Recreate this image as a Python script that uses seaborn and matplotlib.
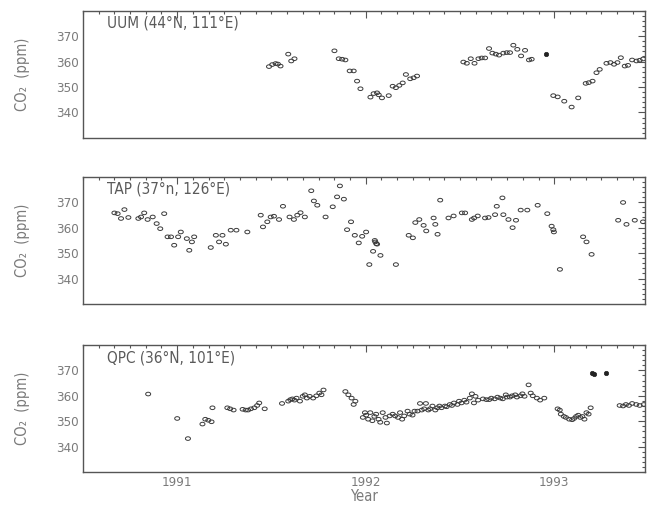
import numpy as np
import pandas as pd
import matplotlib
matplotlib.use("Agg")
import matplotlib.pyplot as plt
from matplotlib.path import Path
from matplotlib.ticker import MultipleLocator, FixedLocator
import seaborn as sns

# ---- UUM (44N, 111E) ----
uum_t = [1991.487, 1991.504, 1991.522, 1991.534, 1991.548, 1991.589, 1991.605, 1991.622,
         1991.834, 1991.857, 1991.875, 1991.892, 1991.915, 1991.936, 1991.954, 1991.972,
         1992.025, 1992.042, 1992.060, 1992.069, 1992.086, 1992.122, 1992.143, 1992.160,
         1992.178, 1992.196, 1992.213, 1992.236, 1992.254, 1992.272,
         1992.518, 1992.536, 1992.557, 1992.577, 1992.598, 1992.615, 1992.633, 1992.654,
         1992.672, 1992.690, 1992.707, 1992.730, 1992.748, 1992.765, 1992.783, 1992.804,
         1992.824, 1992.845, 1992.866, 1992.880,
         1992.995, 1993.018, 1993.053, 1993.092, 1993.127, 1993.167, 1993.183, 1993.203,
         1993.224, 1993.241, 1993.277, 1993.298, 1993.317, 1993.335, 1993.353, 1993.374,
         1993.391, 1993.413, 1993.436, 1993.453, 1993.471]
uum_co2 = [358.0, 358.8, 359.2, 359.0, 358.2, 362.9, 360.2, 361.1,
           364.2, 361.1, 360.9, 360.6, 356.3, 356.3, 352.3, 349.3,
           346.0, 347.4, 347.7, 346.9, 345.7, 346.6, 350.3, 349.7,
           350.6, 351.6, 354.9, 353.2, 353.6, 354.3,
           359.8, 359.3, 361.1, 359.3, 361.1, 361.4, 361.4, 365.1,
           363.3, 362.9, 362.5, 363.3, 363.5, 363.5, 366.4, 364.8,
           362.2, 364.4, 360.6, 360.9,
           346.6, 346.1, 344.4, 342.1, 345.7, 351.4, 351.7, 352.3,
           355.6, 356.9, 359.3, 359.6, 358.9, 359.6, 361.5, 358.2,
           358.5, 360.6, 360.2, 360.5, 361.0]
uum_flag_t = [1992.954]
uum_flag_co2 = [362.9]

# ---- TAP (37N, 126E) ----
tap_t = [1990.667, 1990.684, 1990.702, 1990.720, 1990.741, 1990.794, 1990.808, 1990.825,
         1990.843, 1990.870, 1990.891, 1990.910, 1990.931, 1990.949, 1990.967, 1990.984,
         1991.005, 1991.019, 1991.051, 1991.064, 1991.078, 1991.090, 1991.178, 1991.205,
         1991.222, 1991.240, 1991.258, 1991.284, 1991.314, 1991.372, 1991.443, 1991.455,
         1991.478, 1991.496, 1991.513, 1991.540, 1991.561, 1991.596, 1991.619, 1991.637,
         1991.654, 1991.677, 1991.711, 1991.725, 1991.743, 1991.787, 1991.825, 1991.848,
         1991.863, 1991.884,
         1991.901, 1991.922, 1991.942, 1991.963, 1991.981, 1992.002, 1992.019, 1992.039,
         1992.048, 1992.051, 1992.056, 1992.060, 1992.078, 1992.160, 1992.228, 1992.250,
         1992.263, 1992.284, 1992.307, 1992.321, 1992.360, 1992.369, 1992.381, 1992.395,
         1992.439, 1992.466, 1992.510, 1992.527, 1992.563, 1992.575, 1992.594, 1992.633,
         1992.651, 1992.686, 1992.695, 1992.725, 1992.730, 1992.757, 1992.779, 1992.797,
         1992.822, 1992.857, 1992.912, 1992.963, 1992.986, 1992.995, 1992.998, 1993.030,
         1993.153, 1993.171, 1993.198, 1993.339, 1993.365, 1993.383, 1993.427, 1993.471]
tap_co2 = [365.8, 365.5, 363.6, 367.1, 364.0, 363.6, 364.2, 365.8,
           363.2, 364.2, 361.6, 359.6, 365.5, 356.4, 356.4, 353.1,
           356.4, 358.3, 355.7, 351.1, 354.4, 356.4, 352.2, 357.0,
           354.4, 357.0, 353.5, 359.0, 359.0, 358.3, 364.9, 360.3,
           362.3, 364.2, 364.5, 363.2, 368.4, 364.2, 363.2, 364.9,
           365.9, 364.2, 374.5, 370.5, 368.8, 364.2, 368.2, 372.1,
           376.4, 371.2,
           359.2, 362.3, 357.0, 354.0, 356.6, 358.3, 345.5, 350.7,
           355.0, 354.4, 353.7, 353.5, 349.1, 345.5, 357.0, 356.0,
           362.0, 363.2, 360.9, 358.7, 363.8, 361.3, 357.4, 370.8,
           363.8, 364.6, 365.8, 365.8, 363.2, 363.8, 364.6, 363.8,
           364.0, 365.1, 368.4, 371.7, 365.1, 363.2, 360.0, 362.9,
           366.9, 366.9, 368.8, 365.5, 360.6, 359.2, 358.3, 343.6,
           356.4, 354.4, 349.5, 362.9, 369.9, 361.3, 362.9, 362.3]

# ---- QPC (36N, 101E) ----
qpc_t = [1990.846, 1991.000, 1991.057, 1991.134, 1991.149, 1991.165, 1991.182, 1991.187,
         1991.266, 1991.281, 1991.299, 1991.347, 1991.363, 1991.376, 1991.391, 1991.409,
         1991.424, 1991.435, 1991.464, 1991.556,
         1991.589, 1991.600, 1991.611, 1991.622, 1991.633, 1991.651, 1991.666, 1991.677,
         1991.688, 1991.703, 1991.721, 1991.738, 1991.754, 1991.765, 1991.776,
         1991.892, 1991.908, 1991.925, 1991.936, 1991.945,
         1991.985, 1991.996, 1992.002, 1992.013, 1992.024, 1992.035, 1992.046, 1992.055,
         1992.068, 1992.077, 1992.090, 1992.105, 1992.112, 1992.127, 1992.143, 1992.156,
         1992.171, 1992.182, 1992.193, 1992.204, 1992.222, 1992.233, 1992.248, 1992.259,
         1992.275, 1992.288, 1992.297, 1992.310, 1992.319, 1992.332, 1992.341, 1992.354,
         1992.369, 1992.380, 1992.391, 1992.402, 1992.420, 1992.429, 1992.446, 1992.457,
         1992.468, 1992.486, 1992.495, 1992.508, 1992.523, 1992.534, 1992.552, 1992.563,
         1992.574, 1992.582, 1992.596, 1992.622, 1992.640, 1992.655, 1992.666, 1992.684,
         1992.699, 1992.714, 1992.727, 1992.743, 1992.749, 1992.765, 1992.776, 1992.793,
         1992.802, 1992.820, 1992.831, 1992.842, 1992.864, 1992.875, 1992.886, 1992.908,
         1992.925, 1992.947,
         1993.018, 1993.029, 1993.035, 1993.051, 1993.062, 1993.079, 1993.095, 1993.105,
         1993.116, 1993.127, 1993.138, 1993.149, 1993.160, 1993.171, 1993.182, 1993.193,
         1993.347, 1993.365, 1993.380, 1993.396, 1993.413, 1993.435, 1993.453, 1993.475]
qpc_co2 = [360.7, 351.1, 343.2, 348.9, 350.8, 350.4, 349.8, 355.3,
           355.3, 354.9, 354.4, 354.7, 354.4, 354.4, 354.9, 355.3,
           356.2, 357.2, 354.9, 357.0,
           357.9, 358.5, 358.8, 358.3, 359.1, 357.9, 359.8, 360.4,
           359.1, 359.8, 359.1, 360.0, 361.1, 360.4, 362.3,
           361.7, 360.4, 359.1, 356.6, 357.9,
           351.5, 353.4, 352.4, 350.8, 353.4, 350.2, 351.9, 352.8,
           350.8, 349.6, 353.4, 351.5, 349.3, 352.1, 352.8, 352.1,
           351.5, 353.4, 350.8, 352.1, 354.0, 352.8, 352.4, 354.0,
           354.0, 357.0, 354.4, 354.9, 357.0, 354.4, 354.9, 356.0,
           354.4, 355.3, 356.0, 355.3, 356.0, 355.7, 356.6, 356.2,
           357.2, 356.6, 357.9, 357.2, 358.3, 357.5, 359.1, 360.8,
           357.2, 359.8, 358.3, 358.8, 358.5, 358.5, 359.1, 358.8,
           359.5, 359.1, 358.8, 360.4, 359.5, 359.5, 360.0, 360.4,
           359.5, 360.0, 360.8, 359.8, 364.3, 361.1, 360.0, 359.1,
           358.3, 359.1,
           354.9, 354.4, 352.8, 351.9, 351.5, 350.8, 350.6, 351.1,
           351.9, 352.4, 351.5, 351.9, 350.8, 353.4, 352.8, 355.3,
           356.2, 356.0, 356.6, 356.2, 357.0, 356.6, 356.2, 356.6]
qpc_flag_t = [1993.200, 1993.212, 1993.272]
qpc_flag_co2 = [369.0, 368.4, 369.0]

panels = [
    ("UUM (44°N, 111°E)", uum_t, uum_co2, uum_flag_t, uum_flag_co2),
    ("TAP (37°n, 126°E)", tap_t, tap_co2, [], []),
    ("QPC (36°N, 101°E)", qpc_t, qpc_co2, qpc_flag_t, qpc_flag_co2),
]
year_ticks = [1991, 1992, 1993]

sns.set_style("white")
plt.rcParams["font.family"] = ["DejaVu Sans"]
plt.rcParams["font.stretch"] = "condensed"

ink = "#3a3a3a"
axis_col = "#555555"
txt_col = "#7a7a7a"

# hollow, slightly flattened ring used for the flask samples
theta = np.linspace(0, 2 * np.pi, 40)
ring = Path(np.column_stack([np.cos(theta), 0.72 * np.sin(theta)]))

fig = plt.figure(figsize=(6.48, 5.05), dpi=100)
bottoms = [0.727, 0.398, 0.065]
for (label, t, co2, ft, fc), b in zip(panels, bottoms):
    ax = fig.add_axes([0.128, b, 0.867, 0.252])
    df = pd.DataFrame({"year": t, "co2": co2})
    sns.scatterplot(data=df, x="year", y="co2", ax=ax, marker=ring, s=13,
                    facecolor="none", edgecolor=ink, linewidth=0.7, legend=False)
    if ft:
        fdf = pd.DataFrame({"year": ft, "co2": fc})
        sns.scatterplot(data=fdf, x="year", y="co2", ax=ax, marker="o", s=10,
                        color="#222222", edgecolor="#222222", linewidth=0.5, legend=False)
    ax.set_xlim(1990.5, 1993.48)
    ax.set_ylim(330, 380)
    ax.yaxis.set_major_locator(FixedLocator([340, 350, 360, 370]))
    ax.yaxis.set_minor_locator(MultipleLocator(2))
    ax.xaxis.set_major_locator(FixedLocator(year_ticks))
    ax.xaxis.set_minor_locator(MultipleLocator(1 / 12))
    ax.tick_params(which="both", direction="in", top=True, right=True,
                   color=axis_col, width=0.8)
    ax.tick_params(which="major", length=5, labelsize=9.5, labelcolor=txt_col, pad=3)
    ax.tick_params(which="minor", length=2.5)
    for sp in ax.spines.values():
        sp.set_color(axis_col)
        sp.set_linewidth(1.0)
    ax.set_ylabel("CO₂  (ppm)", fontsize=10.5, color=txt_col)
    ax.yaxis.set_label_coords(-0.095, 0.5)
    ax.text(0.042, 0.9, label, transform=ax.transAxes, fontsize=11,
            color="#5a5a5a", va="center", ha="left")
    if b == bottoms[-1]:
        ax.set_xlabel("Year", fontsize=10.5, color=txt_col, labelpad=0)
    else:
        ax.set_xlabel("")
        ax.tick_params(labelbottom=False)

fig.savefig("out.png", dpi=100)
